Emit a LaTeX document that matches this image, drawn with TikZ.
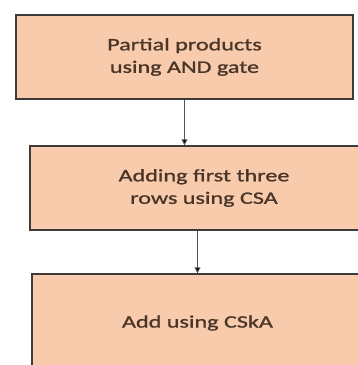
\documentclass[tikz,border=0pt]{standalone}
\usepackage{fontspec}
\newfontfamily\boxfont[FakeStretch=1.38,FakeBold=1.2]{Carlito}
\usetikzlibrary{arrows.meta}
\definecolor{peach}{HTML}{F8CBAD}
\definecolor{edge}{HTML}{3F3A38}
\definecolor{txt}{HTML}{4A3628}
\definecolor{arrowc}{HTML}{555555}
\begin{document}
\begin{tikzpicture}[x=1pt,y=-1pt,
  box/.style={draw=edge,line width=1.4pt,fill=peach,inner sep=0pt,align=center,
    text=txt,font=\boxfont\fontsize{17.5}{22.5}\selectfont},
  arr/.style={draw=arrowc,line width=0.9pt,-{Triangle[length=6pt,width=6pt,fill=black]}}]
\fill[white] (0,0) rectangle (358,365);
\clip (0,0) rectangle (358,365);
\useasboundingbox (0,0) rectangle (358,365);
\node[box,minimum width=337pt,minimum height=84pt] (b1) at (184.5,57) {Partial products\\using AND gate};
\node[box,minimum width=348pt,minimum height=84pt] (b2) at (204,188) {Adding first three\\rows using CSA};
\node[box,minimum width=331pt,minimum height=98pt] (b3) at (197.5,323) {Add using CSkA};
\draw[arr] (b1.south) -- (b1.south |- b2.north);
\draw[arr] (b3.north |- b2.south) -- (b3.north);
\end{tikzpicture}
\end{document}
